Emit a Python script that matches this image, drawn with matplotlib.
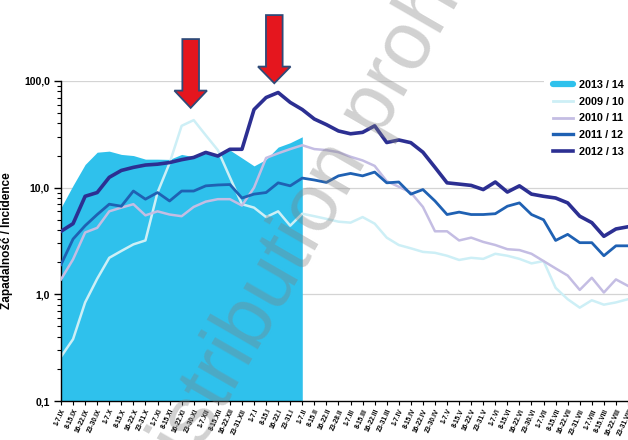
import numpy as np
import matplotlib
matplotlib.use("Agg")
import matplotlib.pyplot as plt
from matplotlib.lines import Line2D
from matplotlib.patches import Polygon
from matplotlib.ticker import FixedLocator, FixedFormatter, LogLocator, NullFormatter

plt.rcParams['font.family'] = ['Liberation Sans', 'DejaVu Sans']

# weekly labels, September -> August
weeks = ['1-7.IX', '8-15.IX', '16-22.IX', '23-30.IX',
         '1-7.X', '8-15.X', '16-22.X', '23-31.X',
         '1-7.XI', '8-15.XI', '16-22.XI', '23-30.XI',
         '1-7.XII', '8-15.XII', '16-22.XII', '23-31.XII',
         '1-7.I', '8-15.I', '16-22.I', '23-31.I',
         '1-7.II', '8-15.II', '16-22.II', '23-28.II',
         '1-7.III', '8-15.III', '16-22.III', '23-31.III',
         '1-7.IV', '8-15.IV', '16-22.IV', '23-30.IV',
         '1-7.V', '8-15.V', '16-22.V', '23-31.V',
         '1-7.VI', '8-15.VI', '16-22.VI', '23-30.VI',
         '1-7.VII', '8-15.VII', '16-22.VII', '23-31.VII',
         '1-7.VIII', '8-15.VIII', '16-22.VIII', '23-31.VIII']

# incidence
season_1314 = [6.5, 10.5, 16.5, 21.5, 22, 20.5, 20, 18.5, 18.5, 18.4, 20.5,
               19.5, 21.5, 20, 22.5, 19, 16, 18.4, 24, 26.4, 30]
season_0910 = [0.26, 0.38, 0.84, 1.4, 2.2, 2.55, 2.94, 3.2, 9.0, 17, 38, 43,
               31, 22.5, 12.5, 7.0, 6.5, 5.3, 6.0, 4.4, 5.7, 5.4, 5.1, 4.8,
               4.7, 5.3, 4.6, 3.4, 2.9, 2.7, 2.5, 2.45, 2.3, 2.1, 2.2, 2.15,
               2.4, 2.3, 2.15, 1.95, 2.05, 1.15, 0.9, 0.75, 0.88, 0.8, 0.84, 0.9]
season_1011 = [1.38, 2.13, 3.8, 4.2, 6.0, 6.5, 7.0, 5.5, 6.0, 5.6, 5.4, 6.6,
               7.4, 7.8, 7.8, 6.8, 10, 19, 21, 23, 25, 23, 22.5, 21.5, 19.5,
               18, 16, 11.5, 10.2, 9.0, 6.6, 3.9, 3.9, 3.2, 3.4, 3.1, 2.9,
               2.65, 2.6, 2.4, 2.05, 1.75, 1.5, 1.1, 1.43, 1.04, 1.38, 1.2]
season_1112 = [1.9, 3.3, 4.4, 5.6, 7.0, 6.7, 9.3, 7.8, 9.0, 7.5, 9.3, 9.3,
               10.4, 10.6, 10.7, 8.0, 8.7, 9.0, 11.1, 10.4, 12.3, 11.8, 11.2,
               12.9, 13.6, 12.9, 14.0, 11.1, 11.3, 8.7, 9.6, 7.5, 5.6, 5.9,
               5.6, 5.6, 5.7, 6.7, 7.2, 5.6, 5.0, 3.2, 3.65, 3.05, 3.05, 2.3,
               2.85, 2.85]
season_1213 = [3.9, 4.6, 8.3, 9.0, 12.5, 14.5, 15.5, 16.3, 16.6, 17.2, 18.3,
               19.2, 21.4, 19.8, 22.9, 22.9, 54, 70, 78, 63, 54, 44, 39, 34,
               32, 33, 38, 26.5, 28, 26.4, 21.5, 15.5, 11.1, 10.8, 10.5, 9.6,
               11.3, 9.1, 10.4, 8.7, 8.3, 8.0, 7.2, 5.4, 4.7, 3.5, 4.1, 4.3]

arrow_weeks = [10.75, 17.68]

c_fill = '#2fc1ec'
c_0910 = '#cdeff6'
c_1011 = '#c4bde3'
c_1112 = '#1f61b3'
c_1213 = '#2c2f92'

fig = plt.figure(figsize=(6.28, 4.40), dpi=100)
ax = fig.add_axes([61/628, 39/440, 567/628, 320/440])

x_all = np.arange(len(weeks))
x_cur = np.arange(len(season_1314))

ax.set_yscale('log')
ax.set_ylim(0.1, 100)
ax.set_xlim(0, len(weeks) - 1)

for v in [1, 10, 100]:
    ax.axhline(v, color='#d4d4d4', lw=0.9, zorder=0)

ax.fill_between(x_cur, 0.1, season_1314, color=c_fill, lw=0, zorder=1)
ax.plot(x_all, season_0910, color=c_0910, lw=1.8, zorder=2)
ax.plot(x_all, season_1011, color=c_1011, lw=1.8, zorder=3)
ax.plot(x_all, season_1112, color=c_1112, lw=2.0, zorder=4)
ax.plot(x_all, season_1213, color=c_1213, lw=2.6, zorder=5)

ax.yaxis.set_major_locator(FixedLocator([0.1, 1, 10, 100]))
ax.yaxis.set_major_formatter(FixedFormatter(['0,1', '1,0', '10,0', '100,0']))
ax.yaxis.set_minor_locator(LogLocator(base=10, subs=np.arange(2, 10)))
ax.yaxis.set_minor_formatter(NullFormatter())
ax.tick_params(axis='y', which='major', length=5, width=1, labelsize=7.5, pad=3)
ax.tick_params(axis='y', which='minor', length=3, width=0.8)
for lab in ax.get_yticklabels():
    lab.set_fontweight('bold')

ax.set_xticks(x_all)
ax.set_xticklabels(weeks, rotation=65, ha='right', va='top',
                   rotation_mode='anchor', fontsize=4.8, fontweight='bold')
ax.tick_params(axis='x', length=3, width=0.8, pad=2)

ax.set_ylabel('Zapadalność / Incidence', fontsize=8.5, fontweight='bold', labelpad=8)

for s in ['top', 'right']:
    ax.spines[s].set_visible(False)
for s in ['left', 'bottom']:
    ax.spines[s].set_color('black')
    ax.spines[s].set_linewidth(1.0)

handles = [Line2D([], [], color=c_fill, lw=4.5, solid_capstyle='round'),
           Line2D([], [], color=c_0910, lw=2),
           Line2D([], [], color=c_1011, lw=2),
           Line2D([], [], color=c_1112, lw=2.4),
           Line2D([], [], color=c_1213, lw=2.6)]
labels = ['2013 / 14', '2009 / 10', '2010 / 11', '2011 / 12', '2012 / 13']
leg = fig.legend(handles, labels, loc='upper left', bbox_to_anchor=(0.867, 0.838),
                 borderaxespad=0, frameon=True, fancybox=False, edgecolor='none',
                 facecolor='white', fontsize=7.8, handlelength=1.8,
                 handletextpad=0.55, labelspacing=0.62, borderpad=0.8,
                 framealpha=1)
for t in leg.get_texts():
    t.set_fontweight('bold')
leg.set_zorder(6)

# red arrows above the two peaks (x in weeks, y in axes fraction)
tr = ax.get_xaxis_transform()
arrow_spans = [(1.131, 0.970, 0.916), (1.206, 1.045, 0.993)]
for xw, (top, neck, tip) in zip(arrow_weeks, arrow_spans):
    sw, hw = 0.69, 1.35
    pts = [(xw - sw, top), (xw + sw, top), (xw + sw, neck), (xw + hw, neck),
           (xw, tip), (xw - hw, neck), (xw - sw, neck)]
    ax.add_patch(Polygon(pts, closed=True, transform=tr, clip_on=False,
                         fc='#e5161e', ec='#2f4a78', lw=1.3, zorder=7))

fig.text(0.551, 0.648, 'distribution prohibited', rotation=60, fontsize=59,
         color='#808080', alpha=0.36, ha='center', va='center', zorder=10)

fig.savefig('out.png', dpi=100)
